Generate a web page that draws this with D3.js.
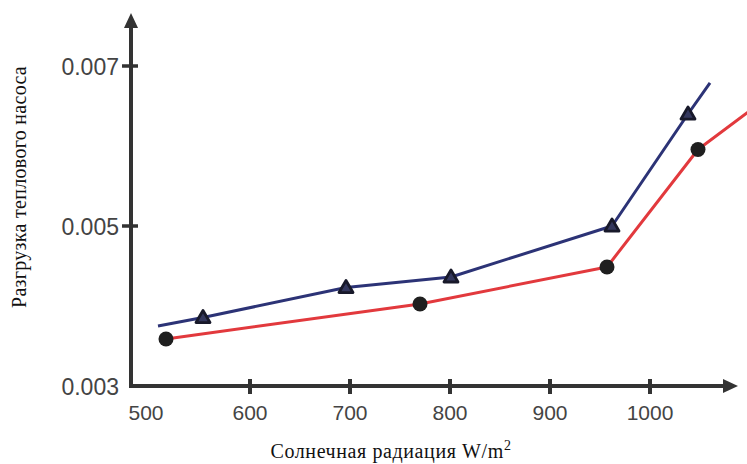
<!DOCTYPE html>
<html>
<head>
<meta charset="utf-8">
<script src="https://cdn.jsdelivr.net/npm/d3@7"></script>
<style>
  html, body { margin: 0; padding: 0; background: #fff; }
  svg { display: block; }
</style>
</head>
<body>
<svg id="chart" width="747" height="464"></svg>
<script>
// ---- data ----
const xTicks = [500, 600, 700, 800, 900, 1000];
const yTicks = [0.003, 0.005, 0.007];
const yTickLabels = ["0.003", "0.005", "0.007"];

// Blue series (triangles); first and last points are line ends without markers
const blueX = [508, 553, 696, 801, 962, 1038, 1060];
const blueY = [0.00375, 0.003856, 0.004231, 0.004363, 0.005, 0.0064, 0.006788];
const blueMarker = [false, true, true, true, true, true, false];

// Red series (circles); last point is the line end leaving the frame
const redX = [516, 770, 957, 1048, 1110];
const redY = [0.003588, 0.004025, 0.004488, 0.005956, 0.006535];
const redMarker = [true, true, true, true, false];

const xTitle = "Солнечная радиация W/m";
const yTitle = "Разгрузка теплового насоса";

// ---- layout ----
const svg = d3.select("#chart");
const axisColor = "#333333";
const x = d3.scaleLinear().domain([500, 1000]).range([150, 650]);
const y = d3.scaleLinear().domain([0.003, 0.007]).range([386, 66]);
const x0 = 131, y0 = 386;

// lines
const line = d3.line().x(d => x(d[0])).y(d => y(d[1]));
const blue = blueX.map((v, i) => [v, blueY[i]]);
const red = redX.map((v, i) => [v, redY[i]]);

svg.append("path").attr("d", line(red)).attr("fill", "none")
  .attr("stroke", "#e2393d").attr("stroke-width", 3).attr("stroke-linejoin", "round");
svg.append("path").attr("d", line(blue)).attr("fill", "none")
  .attr("stroke", "#2c3376").attr("stroke-width", 3).attr("stroke-linejoin", "round");

// markers
svg.selectAll("circle.red").data(red.filter((d, i) => redMarker[i])).join("circle")
  .attr("cx", d => x(d[0])).attr("cy", d => y(d[1])).attr("r", 7.5)
  .attr("fill", "#1f1f1f");
const tri = d3.symbol().type(d3.symbolTriangle).size(85);
svg.selectAll("path.tri").data(blue.filter((d, i) => blueMarker[i])).join("path")
  .attr("transform", d => `translate(${x(d[0])},${y(d[1]) + 1})`)
  .attr("d", tri()).attr("fill", "#34385e").attr("stroke", "#18192a")
  .attr("stroke-width", 2.8).attr("stroke-linejoin", "round");

// axes
svg.append("line").attr("x1", x0).attr("y1", y0 + 2).attr("x2", x0).attr("y2", 26)
  .attr("stroke", axisColor).attr("stroke-width", 4);
svg.append("path").attr("d", `M${x0},13 L${x0 - 7},28 L${x0 + 7},28 Z`).attr("fill", axisColor);
svg.append("line").attr("x1", x0 - 2).attr("y1", y0).attr("x2", 726).attr("y2", y0)
  .attr("stroke", axisColor).attr("stroke-width", 4);
svg.append("path").attr("d", `M738,${y0} L723,${y0 - 7} L723,${y0 + 7} Z`).attr("fill", axisColor);

// x ticks
svg.selectAll("line.xt").data(xTicks.filter(v => v > 500)).join("line")
  .attr("x1", d => x(d)).attr("x2", d => x(d)).attr("y1", y0 - 7).attr("y2", y0 + 8)
  .attr("stroke", axisColor).attr("stroke-width", 4);
svg.selectAll("text.xl").data(xTicks).join("text")
  .attr("x", d => x(d) - (d === 500 ? 4 : 0)).attr("y", 420)
  .attr("text-anchor", "middle").attr("font-family", "Liberation Sans, Arial, sans-serif")
  .attr("font-size", 21).attr("fill", "#444").text(d => d);

// y ticks
svg.selectAll("line.yt").data(yTicks.filter(v => v > 0.003)).join("line")
  .attr("x1", x0 - 9).attr("x2", x0 + 7).attr("y1", d => y(d)).attr("y2", d => y(d))
  .attr("stroke", axisColor).attr("stroke-width", 3.5);
svg.selectAll("text.yl").data(yTicks).join("text")
  .attr("x", 119).attr("y", d => y(d) + 9)
  .attr("text-anchor", "end").attr("font-family", "Liberation Sans, Arial, sans-serif")
  .attr("font-size", 23).attr("fill", "#444")
  .text((d, i) => yTickLabels[i]);

// titles
const xt = svg.append("text").attr("x", 391).attr("y", 458).attr("text-anchor", "middle")
  .attr("font-family", "Liberation Serif, Times New Roman, serif").attr("font-size", 20)
  .attr("letter-spacing", 0.6).attr("fill", "#111");
xt.append("tspan").text(xTitle);
xt.append("tspan").attr("dy", -8).attr("font-size", 14).text("2");

svg.append("text").attr("transform", "translate(26,187) rotate(-90)")
  .attr("text-anchor", "middle").attr("font-family", "Liberation Serif, Times New Roman, serif")
  .attr("font-size", 20).attr("letter-spacing", 0.3).attr("fill", "#111").text(yTitle);
</script>
</body>
</html>
